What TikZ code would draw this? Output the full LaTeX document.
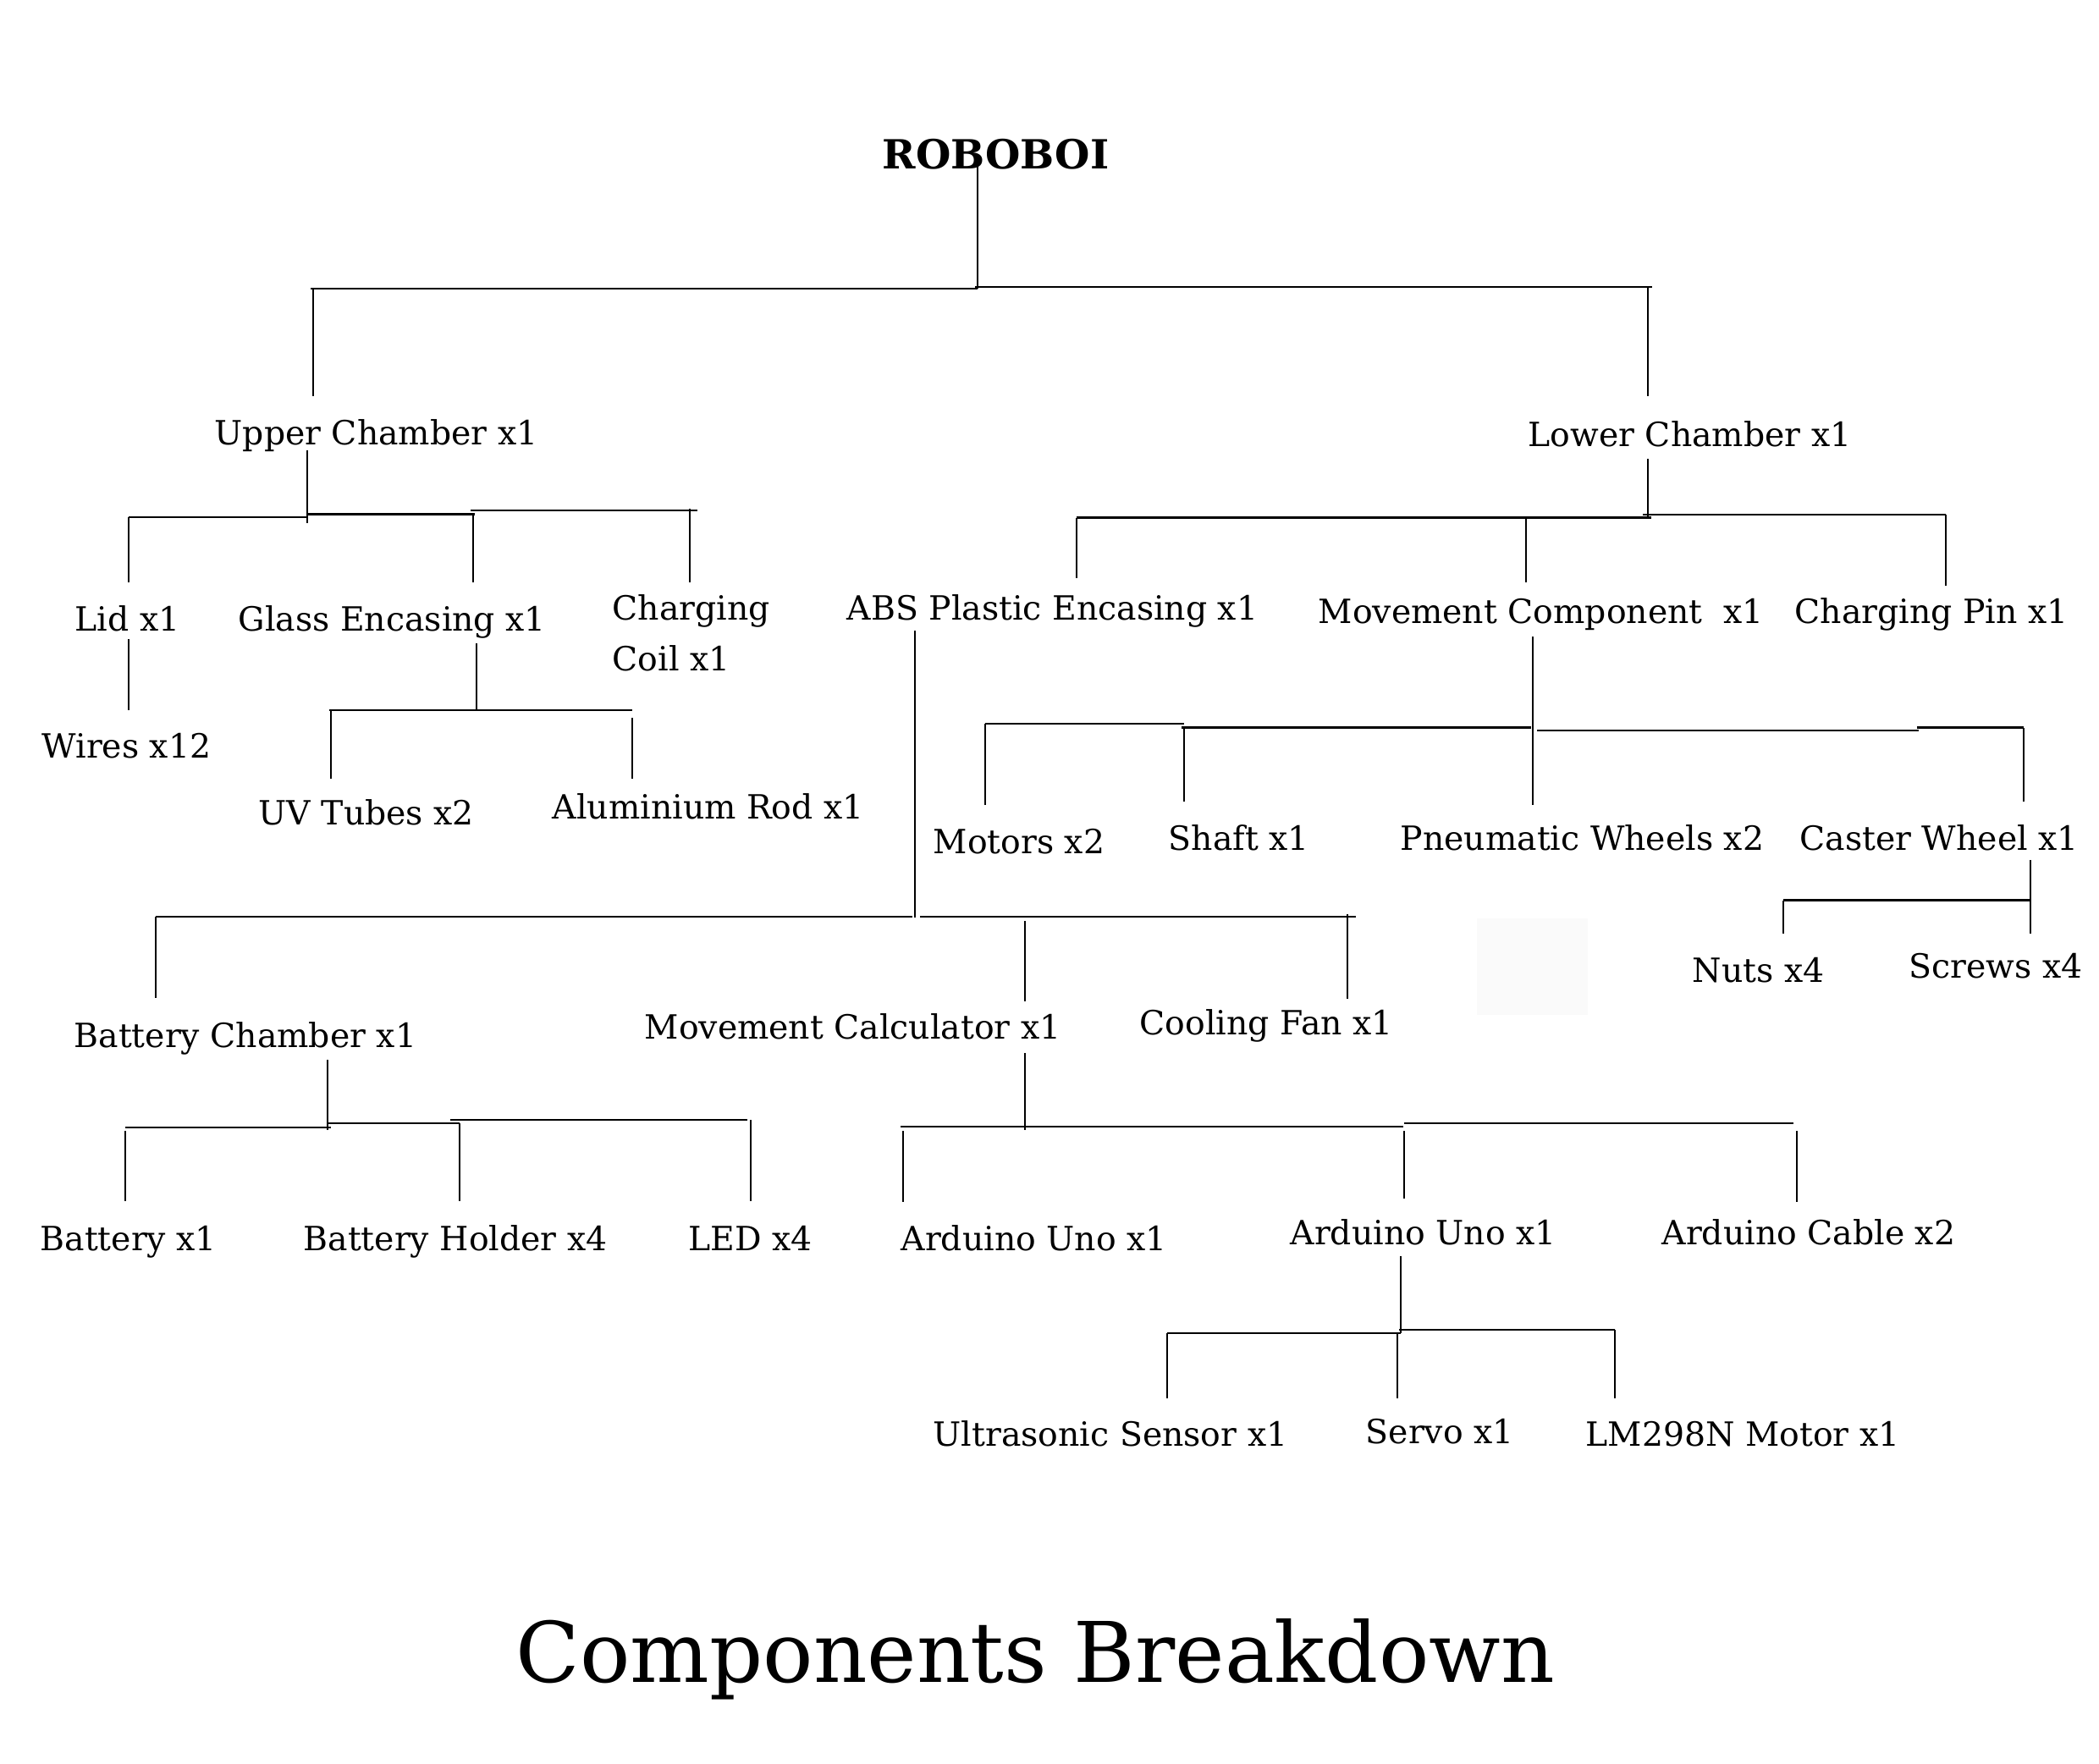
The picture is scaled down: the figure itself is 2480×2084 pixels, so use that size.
\documentclass[tikz,border=0pt]{standalone}
\usepackage{fontspec}
\setmainfont{DejaVu Serif}
\begin{document}
\begin{tikzpicture}[x=0.01cm,y=-0.01cm,
  lbl/.style={anchor=base west,inner sep=0pt,font=\fontsize{11.2}{17}\selectfont},
  rootlbl/.style={anchor=base west,inner sep=0pt,font=\fontsize{13.5}{17}\selectfont\bfseries},
  ttl/.style={anchor=base west,inner sep=0pt,font=\fontsize{28.1}{34}\selectfont},
  hl/.style={line width=0.6pt},
  vl/.style={line width=0.4pt}]
\useasboundingbox (0,0) rectangle (2480,2084);
\fill[white] (0,0) rectangle (2480,2084);
\fill[black!2] (1745,1085) rectangle (1876,1199);

% ---------- labels ----------
\node[rootlbl] (robo) at (1042,199) {ROBOBOI};
\node[lbl] (uc) at (253,525) {Upper Chamber x1};
\node[lbl] (lc) at (1805,527) {Lower Chamber x1};
\node[lbl] (lid) at (88,745) {Lid x1};
\node[lbl] (glass) at (281,745) {Glass Encasing x1};
\node[lbl,align=left] (coil) at (723,792) {Charging\\Coil x1};
\node[lbl] (wires) at (49,895) {Wires x12};
\node[lbl] (uv) at (305,974) {UV Tubes x2};
\node[lbl] (alu) at (652,967) {Aluminium Rod x1};
\node[lbl] (abs) at (1000,732) {ABS Plastic Encasing x1};
\node[lbl] (mcomp) at (1557,736) {Movement Component~ x1};
\node[lbl] (pin) at (2120,736) {Charging Pin x1};
\node[lbl] (motors) at (1102,1008) {Motors x2};
\node[lbl] (shaft) at (1380,1004) {Shaft x1};
\node[lbl] (pneu) at (1654,1004) {Pneumatic Wheels x2};
\node[lbl] (caster) at (2126,1004) {Caster Wheel x1};
\node[lbl] (nuts) at (1999,1160) {Nuts x4};
\node[lbl] (screws) at (2255,1155) {Screws x4};
\node[lbl] (bc) at (87,1237) {Battery Chamber x1};
\node[lbl] (mcalc) at (761,1227) {Movement Calculator x1};
\node[lbl] (fan) at (1346,1222) {Cooling Fan x1};
\node[lbl] (bat) at (47,1477) {Battery x1};
\node[lbl] (holder) at (358,1477) {Battery Holder x4};
\node[lbl] (led) at (813,1477) {LED x4};
\node[lbl] (au1) at (1064,1477) {Arduino Uno x1};
\node[lbl] (au2) at (1524,1470) {Arduino Uno x1};
\node[lbl] (cable) at (1963,1470) {Arduino Cable x2};
\node[lbl] (us) at (1102,1708) {Ultrasonic Sensor x1};
\node[lbl] (servo) at (1613,1705) {Servo x1};
\node[lbl] (lm) at (1873,1708) {LM298N Motor x1};
\node[ttl] (title) at (609,1987) {Components Breakdown};

% ---------- connector end points ----------
\foreach \n/\x/\y in {
  ra/1155/195, rb/1155/341, rl/367/341, rm/1152/339, rr/1952/339,
  uca/370/341, ucb/370/468, lca/1947/339, lcb/1947/468,
  u1/363/532, u2/363/618, ul/152/611, um1/363/607.5, um2/561/607.5, um3/556/603, ur/824/603,
  lida/152/611, lidb/152/688, gla/559/607.5, glb/559/688, cca/815/601, ccb/815/688,
  w1/152/755, w2/152/839,
  g1/563/760, g2/563/839, gl/389/839, gr/747/839,
  uva/391/839, uvb/391/920, ala/747/848, alb/747/920,
  l1/1947/542, l2/1947/612, ll/1272/611.5, lm1/1951/611.5, lm2/1941/607.7, lr/2299/607.7,
  absa/1272/611.5, absb/1272/683, mca/1803/611.5, mcb/1803/688, cpa/2299/607.7, cpb/2299/692,
  m1/1811/752, m2/1811/951, ml/1164/855, mm1/1399/855, mm2/1396/859.5, mm3/1809/859.5,
  mm4/1816/863, mm5/2267/863, mm6/2265/859.5, mr/2391/859.5,
  moa/1164/855, mob/1164/951, sha/1399/859.5, shb/1399/947, caa/2391/859.5, cab/2391/947,
  c1/2399/1016, c2/2399/1103, cl/2107/1063.5, cr/2399/1063.5, nua/2107/1063.5, nub/2107/1103,
  s1/1081/745, s2/1081/1084, sl/184/1083.3, sm1/1078/1083.3, sm2/1087/1083, sr/1602/1083,
  bca/184/1083, bcb/184/1179, mcla/1211/1088, mclb/1211/1183, fa/1592/1080, fb/1592/1180,
  bc1/387/1252, bc2/387/1335, bl/148/1331.7, bm1/391/1331.7, bm2/387/1327, bm3/543/1327,
  bm4/532/1323, br/883/1323,
  baa/148/1336, bab/148/1419, hoa/543/1327, hob/543/1419, lea/887/1323, leb/887/1419,
  k1/1211/1244, k2/1211/1335, kl/1064/1331, km1/1658/1331, km2/1659/1327, kr/2119/1327,
  aua/1067/1336, aub/1067/1420, ava/1659/1336, avb/1659/1416, caba/2123/1336, cabb/2123/1420,
  n1/1655/1484, n2/1655/1575, nl/1379/1575, nm2/1653/1571, nr/1908/1571,
  usa/1379/1575, usb/1379/1652, sea/1651/1575, seb/1651/1652, lma/1908/1571, lmb/1908/1652}
  {\coordinate (\n) at (\x,\y);}

% ---------- connectors ----------
% root
\draw[vl] (ra) -- (rb);
\draw[hl] (rl) -- (rb);
\draw[hl] (rm) -- (rr);
\draw[vl] (uca) -- (ucb);
\draw[vl] (lca) -- (lcb);
% upper chamber
\draw[vl] (u1) -- (u2);
\draw[hl] (ul) -- (um1 |- ul);
\draw[hl] (um1) -- (um2);
\draw[hl] (um3) -- (ur);
\draw[vl] (lida) -- (lidb);
\draw[vl] (gla) -- (glb);
\draw[vl] (cca) -- (ccb);
% lid
\draw[vl] (w1) -- (w2);
% glass encasing
\draw[vl] (g1) -- (g2);
\draw[hl] (gl) -- (gr);
\draw[vl] (uva) -- (uvb);
\draw[vl] (ala) -- (alb);
% lower chamber
\draw[vl] (l1) -- (l2);
\draw[hl] (ll) -- (lm1);
\draw[hl] (lm2) -- (lr);
\draw[vl] (absa) -- (absb);
\draw[vl] (mca) -- (mcb);
\draw[vl] (cpa) -- (cpb);
% movement component
\draw[vl] (m1) -- (m2);
\draw[hl] (ml) -- (mm1);
\draw[hl] (mm2) -- (mm3);
\draw[hl] (mm4) -- (mm5);
\draw[hl] (mm6) -- (mr);
\draw[vl] (moa) -- (mob);
\draw[vl] (sha) -- (shb);
\draw[vl] (caa) -- (cab);
% caster wheel
\draw[vl] (c1) -- (c2);
\draw[hl] (cl) -- (cr);
\draw[vl] (nua) -- (nub);
% abs plastic encasing
\draw[vl] (s1) -- (s2);
\draw[hl] (sl) -- (sm1);
\draw[hl] (sm2) -- (sr);
\draw[vl] (bca) -- (bcb);
\draw[vl] (mcla) -- (mclb);
\draw[vl] (fa) -- (fb);
% battery chamber
\draw[vl] (bc1) -- (bc2);
\draw[hl] (bl) -- (bm1);
\draw[hl] (bm2) -- (bm3);
\draw[hl] (bm4) -- (br);
\draw[vl] (baa) -- (bab);
\draw[vl] (hoa) -- (hob);
\draw[vl] (lea) -- (leb);
% movement calculator
\draw[vl] (k1) -- (k2);
\draw[hl] (kl) -- (km1);
\draw[hl] (km2) -- (kr);
\draw[vl] (aua) -- (aub);
\draw[vl] (ava) -- (avb);
\draw[vl] (caba) -- (cabb);
% arduino uno
\draw[vl] (n1) -- (n2);
\draw[hl] (nl) -- (n2);
\draw[hl] (nm2) -- (nr);
\draw[vl] (usa) -- (usb);
\draw[vl] (sea) -- (seb);
\draw[vl] (lma) -- (lmb);
\end{tikzpicture}
\end{document}
